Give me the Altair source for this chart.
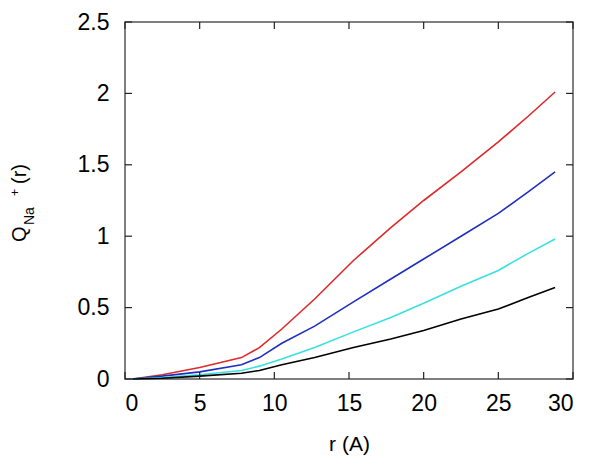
import altair as alt
import pandas as pd

# ---- data ----
r_vals = [0.5, 2.5, 5.0, 7.8, 9.0, 10.5, 12.7, 15.3, 17.8, 20.0, 22.5, 25.0, 27.0, 28.8]
q_red = [0.0, 0.03, 0.08, 0.15, 0.22, 0.35, 0.56, 0.83, 1.06, 1.25, 1.45, 1.66, 1.84, 2.01]
q_blue = [0.0, 0.02, 0.05, 0.10, 0.15, 0.25, 0.37, 0.54, 0.70, 0.84, 1.00, 1.16, 1.31, 1.45]
q_cyan = [0.0, 0.01, 0.03, 0.06, 0.09, 0.14, 0.22, 0.33, 0.43, 0.53, 0.65, 0.76, 0.88, 0.98]
q_black = [0.0, 0.005, 0.02, 0.04, 0.06, 0.10, 0.15, 0.22, 0.28, 0.34, 0.42, 0.49, 0.57, 0.64]
series_names = ["red", "blue", "cyan", "black"]
series_colors = ["#dd2a2a", "#1f2fc0", "#38e0e0", "#000000"]
x_ticks = [0, 5, 10, 15, 20, 25, 30]
y_ticks = [0, 0.5, 1, 1.5, 2, 2.5]
x_title = "r (A)"
y_title_parts = ["Q", "Na", "+", "(r)"]

FONT = "Liberation Sans"
W, H = 448, 357

rows = []
for name, vals in zip(series_names, [q_red, q_blue, q_cyan, q_black]):
    for i, (r, q) in enumerate(zip(r_vals, vals)):
        rows.append({"r": r, "q": q, "series": name, "order": i})
df = pd.DataFrame(rows)

xscale = alt.Scale(domain=[0, 30], nice=False, zero=False)
yscale = alt.Scale(domain=[0, 2.5], nice=False)

lines = alt.Chart(df).mark_line(strokeWidth=1.6).encode(
    x=alt.X("r:Q", scale=xscale,
            axis=alt.Axis(values=x_ticks, title=x_title, format="~g",
                          labelFontSize=23, labelFont=FONT, labelColor="black",
                          labelPadding=13, tickSize=0, domain=False, grid=False,
                          titleFont=FONT, titleFontSize=21, titleFontWeight="normal",
                          titleColor="black", titleBaseline="alphabetic", titleY=71)),
    y=alt.Y("q:Q", scale=yscale,
            axis=alt.Axis(values=y_ticks, title=None, format="~g",
                          labelFontSize=23, labelFont=FONT, labelColor="black",
                          labelPadding=16, tickSize=0, domain=False, grid=False)),
    color=alt.Color("series:N", scale=alt.Scale(domain=series_names, range=series_colors), legend=None),
    order="order:Q",
)

xt = pd.DataFrame({"t": x_ticks})
yt = pd.DataFrame({"t": y_ticks})
tick_style = dict(color="#222222", strokeWidth=1.2)
tb = alt.Chart(xt).mark_rule(**tick_style).encode(x=alt.X("t:Q", scale=xscale), y=alt.value(H), y2=alt.value(H - 7))
tt = alt.Chart(xt).mark_rule(**tick_style).encode(x=alt.X("t:Q", scale=xscale), y=alt.value(0), y2=alt.value(7))
tl = alt.Chart(yt).mark_rule(**tick_style).encode(y=alt.Y("t:Q", scale=yscale), x=alt.value(0), x2=alt.value(7))
tr = alt.Chart(yt).mark_rule(**tick_style).encode(y=alt.Y("t:Q", scale=yscale), x=alt.value(W), x2=alt.value(W - 7))

# rotated y title built from pieces (subscript / superscript)
def piece(txt, xpos, ypos, size):
    return alt.Chart(pd.DataFrame({"s": [txt]})).mark_text(
        angle=270, align="left", baseline="alphabetic", font=FONT, fontSize=size, color="black"
    ).encode(text="s:N", x=alt.value(xpos), y=alt.value(ypos), angle=alt.value(270))

yt_q = piece(y_title_parts[0], -99, 220, 20)
yt_na = piece(y_title_parts[1], -91, 203, 14)
yt_plus = piece(y_title_parts[2], -106, 174, 12)
yt_r = piece(y_title_parts[3], -99, 162, 20)

chart = alt.layer(lines, tb, tt, tl, tr, yt_q, yt_na, yt_plus, yt_r).properties(
    width=W, height=H,
    autosize=alt.AutoSizeParams(type="none"),
    padding={"left": 117, "top": 14, "right": 19, "bottom": 81},
).configure_view(stroke="#555555", strokeWidth=1.5)

chart.save("out.html", embed_options={"renderer": "svg", "actions": False})
